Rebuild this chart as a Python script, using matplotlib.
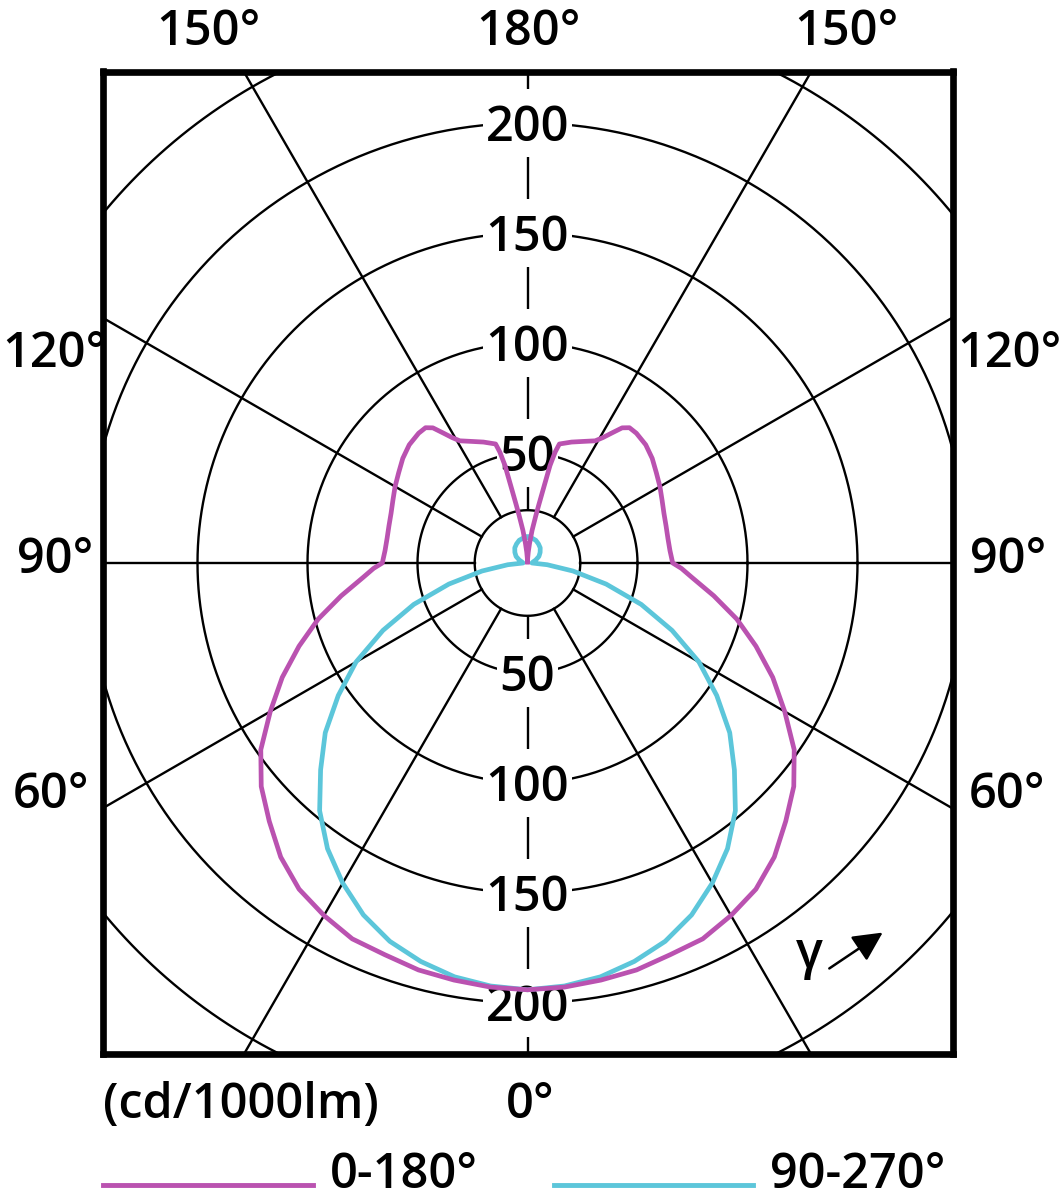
import numpy as np
import matplotlib
matplotlib.use("Agg")
import matplotlib.pyplot as plt
from matplotlib.lines import Line2D

plt.rcParams['font.family'] = ['Open Sans', 'DejaVu Sans']
plt.rcParams['font.weight'] = 'semibold'

# C0-180 plane (cd/1000lm), gamma in degrees
gamma_c0 = [0, 5, 10, 15, 20, 25, 30, 35, 40, 45, 50, 55, 60, 65, 70, 75, 80, 85, 88, 90,
            95, 100, 105, 110, 115, 120, 125, 130, 135, 140, 143, 145, 147, 149, 151, 155,
            160, 165, 166, 167, 168, 169, 170, 172, 174, 176, 178, 180]
i_c0 = [194, 193.5, 192.5, 191.5, 189.5, 188.5, 185, 181, 174.5, 166, 158, 148, 135, 123,
        110.5, 98.5, 86, 75, 70, 66, 65, 64.8, 65.2, 66, 67.5, 69.5, 71.5, 74, 76, 77, 77,
        75, 70.5, 66.5, 63.5, 61, 58.5, 56, 52, 45.5, 34, 27, 22, 15, 9, 5, 2, 0.5]

# C90-270 plane
gamma_c90 = [0, 5, 10, 15, 20, 25, 30, 35, 40, 45, 50, 55, 60, 65, 70, 75, 80, 85, 90,
             100, 110, 120, 130, 140, 150, 160, 170, 180]
i_c90 = [194, 193, 191, 187.5, 183, 176.5, 168, 158.5, 147, 133, 120, 105, 90, 72.5, 55,
         37, 21, 9, 2, 2.5, 4, 6, 7.5, 9, 10, 11, 11.5, 11.8]

ring_values = [50, 100, 150, 200]
ring_extra = [24, 250]
spoke_angles = range(0, 360, 30)

col_c0 = '#BA52B0'
col_c90 = '#5CC6DA'

W, H = 1059, 1200
cx, cy = 527.5, 563.0
scale = 2.2  # px per cd
left_px, right_px, top_px, bottom_px = 103, 952.5, 71.5, 1053.5
fs = 35

fig = plt.figure(figsize=(W / 100, H / 100), dpi=100)
ax = fig.add_axes([left_px / W, 1 - bottom_px / H, (right_px - left_px) / W, (bottom_px - top_px) / H])
ax.set_xlim((left_px - cx) / scale, (right_px - cx) / scale)
ax.set_ylim((cy - bottom_px) / scale, (cy - top_px) / scale)
ax.set_xticks([])
ax.set_yticks([])
for s in ax.spines.values():
    s.set_linewidth(4.8)
    s.set_zorder(10)

r0 = ring_extra[0]
grid_lw = 1.7
# spokes
for a in spoke_angles:
    if a % 180 == 0:
        continue
    t = np.radians(a)
    ax.plot([r0 * np.sin(t), 400 * np.sin(t)], [-r0 * np.cos(t), -400 * np.cos(t)],
            color='black', lw=grid_lw, zorder=1)

# dashed 0-180 axis
for k in range(-10, 11):
    lo, hi = 25 * k - 9.75, 25 * k + 9.75
    if hi <= r0 and lo >= -r0:
        continue
    if lo < r0 and hi > r0:
        lo = r0
    if hi > -r0 and lo < -r0:
        hi = -r0
    ax.plot([0, 0], [lo, hi], color='black', lw=grid_lw, zorder=1, solid_capstyle='butt')

# rings
tt = np.linspace(0, 2 * np.pi, 721)
for r in ring_values + ring_extra:
    ax.plot(r * np.cos(tt), r * np.sin(tt), color='black', lw=grid_lw, zorder=1)

# ring labels
for v in ring_values:
    for sgn in (1, -1):
        ax.text(0, sgn * v - 8.2, str(v), ha='center', va='baseline', fontsize=fs, zorder=2,
                bbox=dict(boxstyle='square,pad=0.06', fc='white', ec='none'))


def curve(gam, val):
    g = np.radians(np.asarray(gam, dtype=float))
    v = np.asarray(val, dtype=float)
    x = v * np.sin(g)
    y = -v * np.cos(g)
    return np.concatenate([-x[::-1], x[1:]]), np.concatenate([y[::-1], y[1:]])


x90, y90 = curve(gamma_c90, i_c90)
ax.plot(x90, y90, color=col_c90, lw=3.4, zorder=3, solid_joinstyle='round')
x0, y0 = curve(gamma_c0, i_c0)
ax.plot(x0, y0, color=col_c0, lw=3.4, zorder=4, solid_joinstyle='round')


def ftext(px, py, s, ha='center', size=fs):
    fig.text(px / W, 1 - py / H, s, ha=ha, va='baseline', fontsize=size)


ftext(208, 45, '150°')
ftext(529, 45, '180°')
ftext(846, 45, '150°')
ftext(2, 367, '120°', ha='left')
ftext(1009, 367, '120°')
ftext(55, 573, '90°')
ftext(1008, 573, '90°')
ftext(51, 808, '60°')
ftext(1007, 808, '60°')
ftext(530, 1118, '0°')
ftext(103, 1118, '(cd/1000lm)', ha='left')

# gamma arrow
fig.text(809 / W, 1 - 968 / H, 'γ', ha='center', va='baseline', fontsize=36)
ax.annotate('', xy=(885, H - 931), xytext=(827, H - 970), xycoords='figure pixels',
            textcoords='figure pixels',
            arrowprops=dict(arrowstyle='-|>', color='black', lw=1.8, mutation_scale=45))

# legend
fig.add_artist(Line2D([103 / W, 313 / W], [1 - 1185 / H] * 2, color=col_c0, lw=3.5,
                      transform=fig.transFigure))
ftext(330, 1188, '0-180°', ha='left')
fig.add_artist(Line2D([554 / W, 753 / W], [1 - 1185 / H] * 2, color=col_c90, lw=3.5,
                      transform=fig.transFigure))
ftext(770, 1188, '90-270°', ha='left')

fig.savefig('out.png', dpi=100)
